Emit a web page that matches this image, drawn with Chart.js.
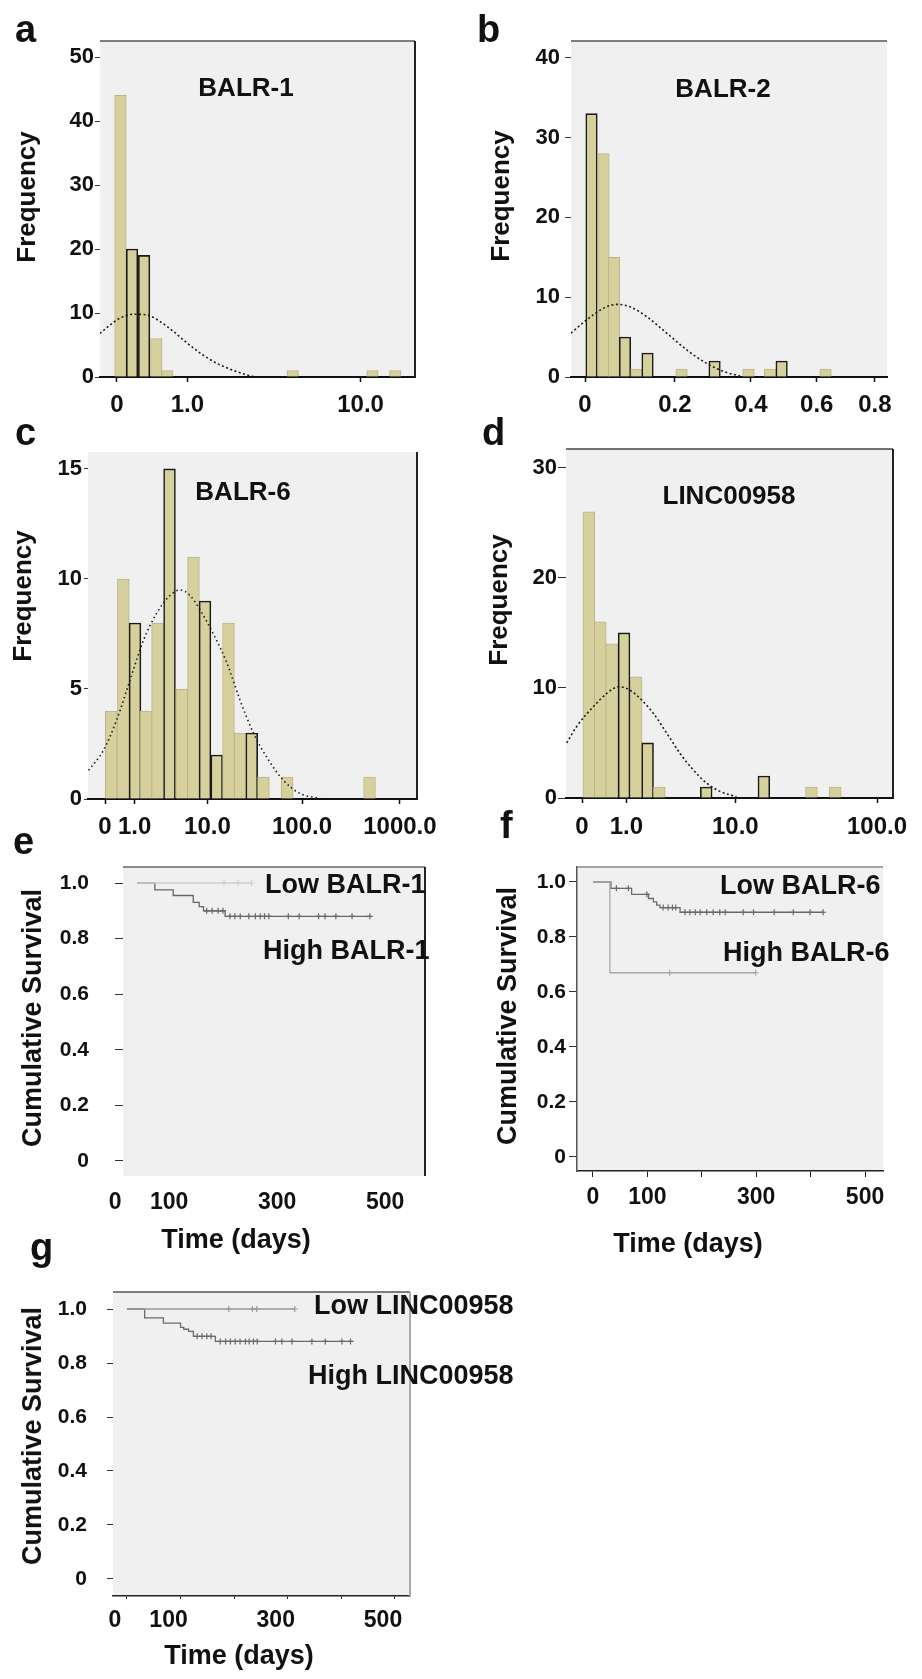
<!DOCTYPE html>
<html>
<head>
<meta charset="utf-8">
<script src="https://cdn.jsdelivr.net/npm/chart.js@4.4.1/dist/chart.umd.min.js"></script>
<style>
  html, body { margin: 0; padding: 0; background: #fff; }
  #page { position: relative; width: 922px; height: 1679px; overflow: hidden;
          font-family: "Liberation Sans", Arial, sans-serif; font-weight: bold; color: #111; }
  canvas { position: absolute; }
  .t { position: absolute; line-height: 0; white-space: nowrap; }
  .c { transform: translateX(-50%); }
  .v { transform: translateX(-50%) rotate(-90deg); }
</style>
</head>
<body>
<div id="page">
  <canvas id="ca" width="430" height="425" style="left:0;top:0"></canvas>
  <canvas id="cb" width="462" height="425" style="left:460px;top:0"></canvas>
  <canvas id="cc" width="460" height="430" style="left:0;top:420px"></canvas>
  <canvas id="cd" width="462" height="430" style="left:460px;top:420px"></canvas>
  <canvas id="ce" width="460" height="380" style="left:0;top:850px"></canvas>
  <canvas id="cf" width="462" height="380" style="left:460px;top:850px"></canvas>
  <canvas id="cg" width="430" height="380" style="left:0;top:1270px"></canvas>

  <div class="t" style="left:15px;top:29px;font-size:38px">a</div>
  <div class="t" style="left:477px;top:29px;font-size:38px">b</div>
  <div class="t" style="left:15px;top:432px;font-size:38px">c</div>
  <div class="t" style="left:482px;top:432px;font-size:38px">d</div>
  <div class="t" style="left:13px;top:841px;font-size:38px">e</div>
  <div class="t" style="left:500px;top:825px;font-size:38px">f</div>
  <div class="t" style="left:30px;top:1247px;font-size:38px">g</div>

  <div class="t c" style="left:246px;top:87px;font-size:26px">BALR-1</div>
  <div class="t c" style="left:723px;top:88px;font-size:26px">BALR-2</div>
  <div class="t c" style="left:243px;top:491px;font-size:26px">BALR-6</div>
  <div class="t c" style="left:729px;top:495px;font-size:26px">LINC00958</div>

  <div class="t v" style="left:26px;top:197px;font-size:26px">Frequency</div>
  <div class="t v" style="left:500px;top:196px;font-size:26px">Frequency</div>
  <div class="t v" style="left:22px;top:596px;font-size:26px">Frequency</div>
  <div class="t v" style="left:498px;top:600px;font-size:26px">Frequency</div>

  <div class="t v" style="left:32px;top:1018px;font-size:27px">Cumulative Survival</div>
  <div class="t v" style="left:507px;top:1016px;font-size:27px">Cumulative Survival</div>
  <div class="t v" style="left:32px;top:1436px;font-size:27px">Cumulative Survival</div>

  <div class="t c" style="left:236px;top:1239px;font-size:27px">Time (days)</div>
  <div class="t c" style="left:688px;top:1243px;font-size:27px">Time (days)</div>
  <div class="t c" style="left:239px;top:1655px;font-size:27px">Time (days)</div>

  <div class="t" style="left:265px;top:884px;font-size:27px">Low BALR-1</div>
  <div class="t" style="left:263px;top:950px;font-size:27px">High BALR-1</div>
  <div class="t" style="left:720px;top:885px;font-size:27px">Low BALR-6</div>
  <div class="t" style="left:723px;top:952px;font-size:27px">High BALR-6</div>
  <div class="t" style="left:314px;top:1305px;font-size:27px">Low LINC00958</div>
  <div class="t" style="left:308px;top:1375px;font-size:27px">High LINC00958</div>
</div>

<script>
Chart.defaults.font.family = '"Liberation Sans", Arial, sans-serif';
Chart.defaults.font.weight = 'bold';
Chart.defaults.color = '#111';
Chart.defaults.animation = false;

// histogram x axes are drawn on log10(x + 1)
const lp = v => Math.log10(v + 1);

// a: BALR-1
const balr1Bins = [0.035, 0.16, 0.306, 0.472, 0.641, 4.64, 11.36, 14.49];
const balr1Counts = [44, 20, 19, 6, 1, 1, 1, 1];
const balr1CurveX = [-0.155, -0.067, 0.03, 0.175, 0.343, 0.531, 0.746, 0.995, 1.275, 1.685, 2.16, 2.61, 2.86];
const balr1CurveY = [6.8, 8.1, 9.2, 9.8, 9.7, 8.65, 7.1, 5.3, 3.7, 2.1, 1.0, 0.3, 0.05];
const balr1XTicks = [0, 1, 10];
const balr1XLabels = ['0', '1.0', '10.0'];
const balr1YTicks = [0, 10, 20, 30, 40, 50];

// b: BALR-2
const balr2Bins = [0.0133, 0.0382, 0.0606, 0.0845, 0.11, 0.1352, 0.2163, 0.3005, 0.3932, 0.4555, 0.49, 0.6289];
const balr2Counts = [33, 28, 15, 5, 1, 3, 1, 2, 1, 1, 2, 1];
const balr2CurveX = [-0.028, 0.0034, 0.0379, 0.0664, 0.0955, 0.1334, 0.1802, 0.229, 0.2801, 0.333, 0.3696];
const balr2CurveY = [5.5, 7.15, 8.6, 9.1, 8.8, 7.55, 5.5, 3.4, 1.7, 0.55, 0.13];
const balr2XTicks = [0, 0.2, 0.4, 0.6, 0.8];
const balr2XLabels = ['0', '0.2', '0.4', '0.6', '0.8'];
const balr2YTicks = [0, 10, 20, 30, 40];

// c: BALR-6
const balr6Bins = [0.156, 0.535, 1.018, 1.624, 2.42, 3.53, 5.03, 6.94, 9.4, 12.68, 17.03, 22.7, 30.1, 39.9, 70.3, 490];
const balr6Counts = [4, 10, 8, 4, 8, 15, 5, 11, 9, 2, 8, 3, 3, 1, 1, 1];
const balr6CurveX = [-0.32, -0.04, 0.315, 0.795, 1.455, 2.36, 3.58, 4.79, 6.33, 8.25, 11.65, 16.3, 22.6, 31.3, 43.2, 64.2, 95.4, 153];
const balr6CurveY = [1.3, 2.2, 3.6, 5.4, 7.2, 8.45, 9.25, 9.5, 9.25, 8.6, 7.5, 6.2, 4.5, 3.0, 1.9, 0.85, 0.25, 0.03];
const balr6XTicks = [0, 1, 10, 100, 1000];
const balr6XLabels = ['0', '1.0', '10.0', '100.0', '1000.0'];
const balr6YTicks = [0, 5, 10, 15];

// d: LINC00958
const lincBins = [0.112, 0.33, 0.59, 0.93, 1.33, 1.79, 2.35, 5.98, 16.2, 35.2, 51.5];
const lincCounts = [26, 16, 14, 15, 11, 5, 1, 1, 2, 1, 1];
const lincCurveX = [-0.213, -0.08, 0.194, 0.472, 0.766, 1.118, 1.541, 2.048, 2.758, 3.634, 4.7, 6.03, 7.67, 10.2];
const lincCurveY = [5.0, 6.5, 8.3, 9.5, 10.1, 9.8, 8.9, 7.7, 5.9, 4.05, 2.55, 1.35, 0.6, 0.12];
const lincXTicks = [0, 1, 10, 100];
const lincXLabels = ['0', '1.0', '10.0', '100.0'];
const lincYTicks = [0, 10, 20, 30];

// e: survival by BALR-1
const eHighTime = [0, 33, 67, 104, 115, 123, 163, 431];
const eHighSurv = [1, 0.975, 0.955, 0.93, 0.915, 0.9, 0.88, 0.88];
const eHighCensor = [129, 139, 150, 159, 172, 181, 191, 207, 219, 228, 236, 244, 280, 300, 336, 348, 368, 398, 431];
const eLowTime = [0, 212];
const eLowSurv = [1, 1];
const eLowCensor = [161, 187, 212];

// f: survival by BALR-6
const fLowTime = [0, 33, 71, 102, 111, 117, 123, 160, 423];
const fLowSurv = [1, 0.977, 0.955, 0.94, 0.928, 0.916, 0.907, 0.89, 0.89];
const fLowCensor = [43, 65, 99, 129, 138, 146, 152, 169, 178, 188, 197, 209, 221, 233, 243, 276, 295, 333, 368, 399, 423];
const fHighTime = [0, 31, 299];
const fHighSurv = [1, 0.67, 0.67];
const fHighCensor = [141, 299];

// g: survival by LINC00958
const gLowTime = [0, 313];
const gLowSurv = [1, 1];
const gLowCensor = [190, 234, 242, 313];
const gHighTime = [0, 33, 68, 100, 106, 115, 124, 165, 422];
const gHighSurv = [1, 0.967, 0.948, 0.932, 0.925, 0.917, 0.899, 0.88, 0.88];
const gHighCensor = [131, 140, 149, 157, 174, 184, 193, 202, 211, 221, 228, 236, 243, 277, 289, 308, 345, 370, 401, 417];

const timeTicks4 = [0, 100, 300, 500];
const timeLabels4 = ['0', '100', '300', '500'];
const timeTicks6 = [0, 100, 200, 300, 400, 500];
const timeLabels6 = ['0', '100', '', '300', '', '500'];
const survTicks = [0, 0.2, 0.4, 0.6, 0.8, 1];
const survLabels = ['0', '0.2', '0.4', '0.6', '0.8', '1.0'];

// grey plot background + partial frame lines
Chart.register({
  id: 'frame',
  beforeDraw(chart) {
    const { ctx, chartArea: a } = chart;
    ctx.save();
    ctx.fillStyle = '#f0f0f0';
    ctx.fillRect(a.left, a.top, a.width, a.height);
    ctx.restore();
  },
  afterDraw(chart, args, o) {
    const { ctx, chartArea: a } = chart;
    ctx.save();
    if (o.top) {
      ctx.strokeStyle = o.top; ctx.lineWidth = 1.5;
      ctx.beginPath(); ctx.moveTo(a.left, a.top); ctx.lineTo(a.right, a.top); ctx.stroke();
    }
    if (o.right) {
      ctx.strokeStyle = o.right; ctx.lineWidth = 2;
      ctx.beginPath(); ctx.moveTo(a.right, a.top); ctx.lineTo(a.right, a.bottom); ctx.stroke();
    }
    ctx.restore();
  }
});

function histogram(id, bins, counts, curveX, curveY, xTicks, xLabels, yTicks, s) {
  return new Chart(document.getElementById(id), {
    type: 'bar',
    data: {
      datasets: [{
        type: 'line',
        data: curveX.map((x, i) => ({ x: lp(x), y: curveY[i] })),
        borderColor: '#1c1c1c', borderWidth: 1.6, borderDash: s.dash,
        pointRadius: 0, cubicInterpolationMode: 'monotone', order: 0
      }, {
        data: bins.map((x, i) => ({ x: lp(x), y: counts[i] })),
        backgroundColor: '#d6d09d',
        borderColor: c => s.dark.includes(c.dataIndex) ? '#1a1a1a' : '#bab48b',
        borderWidth: c => s.dark.includes(c.dataIndex) ? 1.6 : 1,
        barThickness: s.barW, order: 1
      }]
    },
    options: {
      responsive: false,
      layout: { padding: { top: s.padTop, right: s.padRight, left: 0, bottom: 0 } },
      plugins: { legend: { display: false }, tooltip: { enabled: false }, frame: s.frame },
      scales: {
        x: {
          type: 'linear', min: lp(s.xMin), max: lp(s.xMax), offset: false,
          afterFit: sc => { sc.height = s.xH; sc.paddingLeft = 0; sc.paddingRight = 0; },
          afterBuildTicks: sc => { sc.ticks = xTicks.map(v => ({ value: lp(v) })); },
          ticks: { callback: (v, i) => xLabels[i], font: { size: 24 }, padding: s.xPad, autoSkip: false, maxRotation: 0 },
          grid: { drawOnChartArea: false, tickLength: 5, tickColor: '#111', tickWidth: 1.5, offset: false },
          border: { display: true, color: '#111', width: 2 }
        },
        y: {
          min: 0, max: s.yMax,
          afterFit: sc => { sc.width = s.yW; sc.paddingTop = 0; sc.paddingBottom = 0; },
          afterBuildTicks: sc => { sc.ticks = yTicks.map(v => ({ value: v })); },
          ticks: { callback: v => String(v), font: { size: 22 }, padding: s.yPad },
          grid: { drawOnChartArea: false, tickLength: s.yTl, tickColor: '#333' },
          border: { display: false }
        }
      }
    }
  });
}

function survAt(times, surv, t) {
  let v = surv[0];
  for (let i = 0; i < times.length; i++) if (times[i] <= t) v = surv[i];
  return v;
}

function kmSets(times, surv, censor, color) {
  return [{
    data: times.map((t, i) => ({ x: t, y: surv[i] })),
    stepped: 'before', borderColor: color, borderWidth: 1.3, pointRadius: 0
  }, {
    data: censor.map(t => ({ x: t, y: survAt(times, surv, t) })),
    showLine: false, pointStyle: 'cross', pointRadius: 3, borderColor: color, borderWidth: 1.2
  }];
}

function survival(id, sets, xTicks, xLabels, s) {
  return new Chart(document.getElementById(id), {
    type: 'line',
    data: { datasets: sets },
    options: {
      responsive: false,
      layout: { padding: { top: s.padTop, right: s.padRight, left: 0, bottom: 0 } },
      plugins: { legend: { display: false }, tooltip: { enabled: false }, frame: s.frame },
      scales: {
        x: {
          type: 'linear', min: s.xMin, max: s.xMax,
          afterFit: sc => { sc.height = s.xH; sc.paddingLeft = 0; sc.paddingRight = 0; },
          afterBuildTicks: sc => { sc.ticks = xTicks.map(v => ({ value: v })); },
          ticks: { callback: (v, i) => xLabels[i], font: { size: 23 }, padding: s.xPad,
                   labelOffset: s.labelOffset, autoSkip: false, maxRotation: 0 },
          grid: { drawOnChartArea: false, drawTicks: s.xTl > 0, tickLength: s.xTl, tickColor: '#222', offset: false },
          border: { display: s.xBorder, color: '#222', width: 1.5 }
        },
        y: {
          min: s.yMin, max: s.yMax,
          afterFit: sc => { sc.width = s.yW; sc.paddingTop = 0; sc.paddingBottom = 0; },
          afterBuildTicks: sc => { sc.ticks = survTicks.map(v => ({ value: v })); },
          ticks: { callback: (v, i) => survLabels[i], font: { size: 21 }, padding: s.yPad },
          grid: { drawOnChartArea: false, tickLength: s.yTl, tickColor: '#333' },
          border: { display: s.yBorder, color: '#555', width: 1.5 }
        }
      }
    }
  });
}

histogram('ca', balr1Bins, balr1Counts, balr1CurveX, balr1CurveY, balr1XTicks, balr1XLabels, balr1YTicks, {
  xMin: -0.154, xMax: 17.8, yMax: 52.5, padTop: 41, padRight: 15, yW: 100, xH: 48,
  xPad: 9, yPad: 1, yTl: 5, barW: 11.5, dash: [2, 2.5], dark: [1, 2],
  frame: { top: '#555', right: '#222' }
});
histogram('cb', balr2Bins, balr2Counts, balr2CurveX, balr2CurveY, balr2XTicks, balr2XLabels, balr2YTicks, {
  xMin: -0.028, xMax: 0.845, yMax: 42.1, padTop: 41, padRight: 35, yW: 111, xH: 48,
  xPad: 9, yPad: 5, yTl: 6, barW: 11.5, dash: [2, 2.5], dark: [0, 3, 5, 7, 10],
  frame: { top: '#555' }
});
histogram('cc', balr6Bins, balr6Counts, balr6CurveX, balr6CurveY, balr6XTicks, balr6XLabels, balr6YTicks, {
  xMin: -0.329, xMax: 1492, yMax: 15.77, padTop: 32, padRight: 43, yW: 88, xH: 51,
  xPad: 9, yPad: 2, yTl: 4, barW: 11.8, dash: [1.5, 3], dark: [2, 5, 8, 9, 12],
  frame: { right: '#222' }
});
histogram('cd', lincBins, lincCounts, lincCurveX, lincCurveY, lincXTicks, lincXLabels, lincYTicks, {
  xMin: -0.222, xMax: 128.7, yMax: 31.7, padTop: 29, padRight: 29, yW: 106, xH: 52,
  xPad: 10, yPad: 1, yTl: 8, barW: 11.8, dash: [2, 2.5], dark: [3, 5, 7, 8],
  frame: { top: '#444', right: '#222' }
});

survival('ce', [
  ...kmSets(eLowTime, eLowSurv, eLowCensor, '#cfcfcf'),
  ...kmSets(eHighTime, eHighSurv, eHighCensor, '#666')
], timeTicks4, timeLabels4, {
  xMin: -26, xMax: 533, yMin: -0.054, yMax: 1.0576, padTop: 17, padRight: 35, yW: 123, xH: 54,
  xPad: 13, xTl: 0, labelOffset: -22, xBorder: false, yPad: 26, yTl: 8, yBorder: false,
  frame: { top: '#666', right: '#222' }
});
survival('cf', [
  ...kmSets(fHighTime, fHighSurv, fHighCensor, '#a8a8a8'),
  ...kmSets(fLowTime, fLowSurv, fLowCensor, '#6a6a6a')
], timeTicks6, timeLabels6, {
  xMin: -29.4, xMax: 533, yMin: -0.051, yMax: 1.0545, padTop: 17, padRight: 39, yW: 117, xH: 59,
  xPad: 7, xTl: 6, labelOffset: 0, xBorder: true, yPad: 3, yTl: 8, yBorder: true,
  frame: { top: '#888' }
});
survival('cg', [
  ...kmSets(gLowTime, gLowSurv, gLowCensor, '#9a9a9a'),
  ...kmSets(gHighTime, gHighSurv, gHighCensor, '#6a6a6a')
], timeTicks6, timeLabels6, {
  xMin: -26, xMax: 528, yMin: -0.063, yMax: 1.063, padTop: 22, padRight: 20, yW: 113, xH: 54,
  xPad: 8, xTl: 3, labelOffset: -12, xBorder: true, yPad: 20, yTl: 6, yBorder: false,
  frame: { top: '#555', right: '#aaa' }
});
</script>
</body>
</html>
